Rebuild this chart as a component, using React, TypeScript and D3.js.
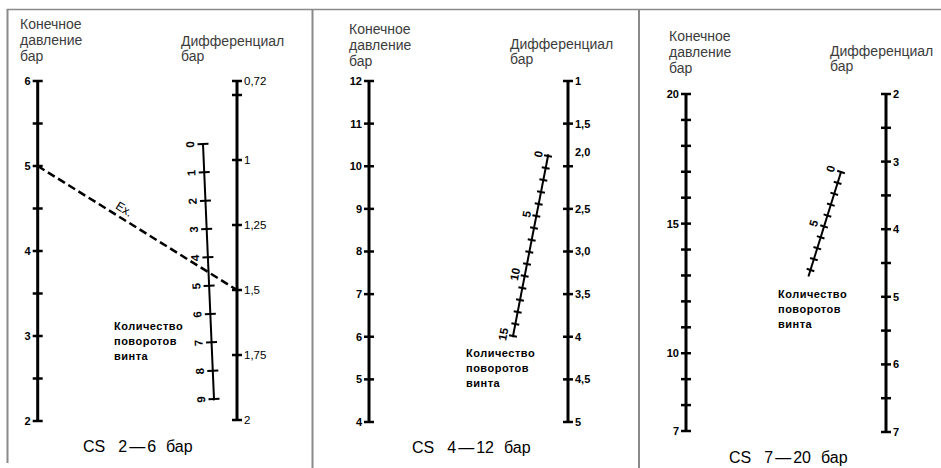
import React from 'react';
import * as d3 from 'd3';

const W = 941;
const H = 468;
const FONT = '"Liberation Sans", Arial, sans-serif';

// ---- data: CS 2-6 bar ----
const p1Pressure = [2, 2.5, 3, 3.5, 4, 4.5, 5, 5.5, 6];
const p1PressureLabeled = [2, 3, 4, 5, 6];
const p1Diff = [0.72, 0.75, 1, 1.25, 1.5, 1.75, 2];
const p1DiffLabeled = [0.72, 1, 1.25, 1.5, 1.75, 2];
const p1DiffText = ['0,72', '1', '1,25', '1,5', '1,75', '2'];
const p1Turns = [0, 1, 2, 3, 4, 5, 6, 7, 8, 9];
const p1TurnsLabeled = [0, 1, 2, 3, 4, 5, 6, 7, 8, 9];

// ---- data: CS 4-12 bar ----
const p2Pressure = [4, 5, 6, 7, 8, 9, 10, 11, 12];
const p2PressureLabeled = [4, 5, 6, 7, 8, 9, 10, 11, 12];
const p2Diff = [1, 1.5, 2, 2.5, 3, 3.5, 4, 4.5, 5];
const p2DiffLabeled = [1, 1.5, 2, 2.5, 3, 3.5, 4, 4.5, 5];
const p2DiffText = ['1', '1,5', '2,0', '2,5', '3,0', '3,5', '4', '4,5', '5'];
const p2Turns = [0, 1, 2, 3, 4, 5, 6, 7, 8, 9, 10, 11, 12, 13, 14, 15];
const p2TurnsLabeled = [0, 5, 10, 15];

// ---- data: CS 7-20 bar ----
const p3Pressure = [7, 8, 9, 10, 11, 12, 13, 14, 15, 16, 17, 18, 19, 20];
const p3PressureLabeled = [7, 10, 15, 20];
const p3Diff = [2, 2.5, 3, 3.5, 4, 4.5, 5, 5.5, 6, 6.5, 7];
const p3DiffLabeled = [2, 3, 4, 5, 6, 7];
const p3DiffText = ['2', '3', '4', '5', '6', '7'];
const p3Turns = [0, 1, 2, 3, 4, 5, 6, 7, 8, 9];
const p3TurnsLabeled = [0, 5];

// worked example on the first chart: final pressure 5 -> differential 1,5
const exampleFrom = 5;
const exampleTo = 1.5;

const panels = [
  {
    range: ['2', '6'],
    pressure: p1Pressure, pressureLabeled: p1PressureLabeled,
    diff: p1Diff, diffLabeled: p1DiffLabeled, diffText: p1DiffText,
    turns: p1Turns, turnsLabeled: p1TurnsLabeled,
    pX: 37.7, dX: 237,
    pScale: d3.scaleLinear().domain([2, 6]).range([421, 81]),
    dScale: d3.scaleLinear().domain([0.72, 0.75, 2]).range([81, 95, 420]),
    tX: d3.scaleLinear().domain([0, 9]).range([203, 214]),
    tY: d3.scaleLinear().domain([0, 9]).range([144, 399]),
    tExtent: [0, 9.05], tTick: 5.5, tLabelOff: 13,
    title: [20, 29], diffTitle: [181, 46], note: [114, 330], caption: [83, 452],
    diffBold: false, diffShift: {} as Record<number, number>,
  },
  {
    range: ['4', '12'],
    pressure: p2Pressure, pressureLabeled: p2PressureLabeled,
    diff: p2Diff, diffLabeled: p2DiffLabeled, diffText: p2DiffText,
    turns: p2Turns, turnsLabeled: p2TurnsLabeled,
    pX: 369, dX: 568,
    pScale: d3.scaleLinear().domain([4, 12]).range([422, 81]),
    dScale: d3.scaleLinear().domain([1, 5]).range([81, 422]),
    tX: d3.scaleLinear().domain([0, 15]).range([548, 513]),
    tY: d3.scaleLinear().domain([0, 15]).range([156, 336]),
    tExtent: [-0.15, 15.1], tTick: 4, tLabelOff: 10,
    title: [349, 34], diffTitle: [510, 49], note: [466, 357], caption: [412, 453],
    diffBold: true, diffShift: { 2: -14 } as Record<number, number>,
  },
  {
    range: ['7', '20'],
    pressure: p3Pressure, pressureLabeled: p3PressureLabeled,
    diff: p3Diff, diffLabeled: p3DiffLabeled, diffText: p3DiffText,
    turns: p3Turns, turnsLabeled: p3TurnsLabeled,
    pX: 686, dX: 886,
    pScale: d3.scaleLinear().domain([7, 20]).range([431, 94]),
    dScale: d3.scaleLinear().domain([2, 7]).range([94, 432]),
    tX: d3.scaleLinear().domain([0, 9]).range([841, 810.5]),
    tY: d3.scaleLinear().domain([0, 9]).range([172, 270]),
    tExtent: [0, 9.6], tTick: 4, tLabelOff: 11,
    title: [669, 41], diffTitle: [830, 56], note: [778, 298], caption: [729, 463],
    diffBold: true, diffShift: {} as Record<number, number>,
  },
];

const TICK = 5;

const Nomogram = ({ p, showExample }: { p: typeof panels[0]; showExample: boolean }) => {
  const [t0, t1] = p.tExtent;
  const ux = p.tX(1) - p.tX(0);
  const uy = p.tY(1) - p.tY(0);
  const ul = Math.hypot(ux, uy);
  const nx = -uy / ul; // perpendicular, pointing left of the line
  const ny = ux / ul;
  const angle = (Math.atan2(-uy, -ux) * 180) / Math.PI;

  const exA = [p.pX, p.pScale(exampleFrom)];
  const exB = [p.dX, p.dScale(exampleTo)];
  const exAngle = (Math.atan2(exB[1] - exA[1], exB[0] - exA[0]) * 180) / Math.PI;
  const exMid = [exA[0] + (exB[0] - exA[0]) * 0.41, exA[1] + (exB[1] - exA[1]) * 0.41];

  return (
    <g fontFamily={FONT}>
      {/* headings */}
      <text x={p.title[0]} y={p.title[1]} fontSize={14} fill="#3c3c3c">
        <tspan x={p.title[0]}>Конечное</tspan>
        <tspan x={p.title[0]} dy={16}>давление</tspan>
        <tspan x={p.title[0]} dy={16}>бар</tspan>
      </text>
      <text x={p.diffTitle[0]} y={p.diffTitle[1]} fontSize={14} fill="#3c3c3c">
        <tspan x={p.diffTitle[0]}>Дифференциал</tspan>
        <tspan x={p.diffTitle[0]} dy={15}>бар</tspan>
      </text>

      {/* final pressure axis */}
      <line x1={p.pX} x2={p.pX} y1={p.pScale(d3.min(p.pressure)!)} y2={p.pScale(d3.max(p.pressure)!)}
        stroke="#000" strokeWidth={3} />
      {p.pressure.map(v => (
        <line key={'pt' + v} x1={p.pX - TICK} x2={p.pX + TICK} y1={p.pScale(v)} y2={p.pScale(v)}
          stroke="#000" strokeWidth={2.5} />
      ))}
      {p.pressureLabeled.map(v => (
        <text key={'pl' + v} x={p.pX - 7} y={p.pScale(v)} dy="0.36em" textAnchor="end"
          fontSize={11} fontWeight="bold">{v}</text>
      ))}

      {/* differential axis */}
      <line x1={p.dX} x2={p.dX} y1={p.dScale(d3.min(p.diff)!)} y2={p.dScale(d3.max(p.diff)!)}
        stroke="#000" strokeWidth={3} />
      {p.diff.map(v => (
        <line key={'dt' + v} x1={p.dX - TICK} x2={p.dX + TICK} y1={p.dScale(v)} y2={p.dScale(v)}
          stroke="#000" strokeWidth={2.5} />
      ))}
      {p.diffLabeled.map((v, i) => (
        <text key={'dl' + v} x={p.dX + 7} y={p.dScale(v) + (p.diffShift[v] || 0)} dy="0.36em"
          fontSize={p.diffBold ? 11 : 11.5} fontWeight={p.diffBold ? 'bold' : 'normal'}>{p.diffText[i]}</text>
      ))}

      {/* screw turns scale */}
      <line x1={p.tX(t0)} y1={p.tY(t0)} x2={p.tX(t1)} y2={p.tY(t1)} stroke="#000" strokeWidth={2} />
      {p.turns.map(v => (
        <line key={'tt' + v}
          x1={p.tX(v) - nx * p.tTick} y1={p.tY(v) - ny * p.tTick}
          x2={p.tX(v) + nx * p.tTick} y2={p.tY(v) + ny * p.tTick}
          stroke="#000" strokeWidth={2} />
      ))}
      {p.turnsLabeled.map(v => (
        <text key={'tl' + v} textAnchor="middle" dy="0.36em" fontSize={11.5} fontWeight="bold"
          transform={`translate(${p.tX(v) + nx * p.tLabelOff},${p.tY(v) + ny * p.tLabelOff}) rotate(${angle})`}>
          {v}
        </text>
      ))}
      <text x={p.note[0]} y={p.note[1]} fontSize={11} fontWeight="bold" letterSpacing={0.5}>
        <tspan x={p.note[0]}>Количество</tspan>
        <tspan x={p.note[0]} dy={15}>поворотов</tspan>
        <tspan x={p.note[0]} dy={15}>винта</tspan>
      </text>

      {showExample && (
        <g>
          <line x1={exA[0]} y1={exA[1]} x2={exB[0]} y2={exB[1]} stroke="#000" strokeWidth={2.5}
            strokeDasharray="8 4" />
          <text fontSize={12} textAnchor="middle"
            transform={`translate(${exMid[0]},${exMid[1]}) rotate(${exAngle}) translate(0,-5)`}>Ex.</text>
        </g>
      )}

      {/* caption */}
      <text x={p.caption[0]} y={p.caption[1]} fontSize={16}>
        <tspan>CS</tspan>
        <tspan dx={13}>{p.range[0]}</tspan>
        <tspan dx={2}>—</tspan>
        <tspan dx={2}>{p.range[1]}</tspan>
        <tspan dx={10}>бар</tspan>
      </text>
    </g>
  );
};

export default function App() {
  return (
    <svg width={W} height={H} style={{ position: 'absolute', left: 0, top: 0, background: '#fff' }}>
      <rect width={W} height={H} fill="#fff" />
      {/* frame */}
      <line x1={7} x2={W} y1={9.5} y2={9.5} stroke="#8a8a8a" strokeWidth={1.5} />
      <line x1={7.5} x2={7.5} y1={9} y2={463} stroke="#8a8a8a" strokeWidth={2} />
      <line x1={312.5} x2={312.5} y1={9} y2={H} stroke="#8a8a8a" strokeWidth={2} />
      <line x1={639} x2={639} y1={9} y2={H} stroke="#8a8a8a" strokeWidth={2} />
      {panels.map((p, i) => (
        <Nomogram key={i} p={p} showExample={i === 0} />
      ))}
    </svg>
  );
}
